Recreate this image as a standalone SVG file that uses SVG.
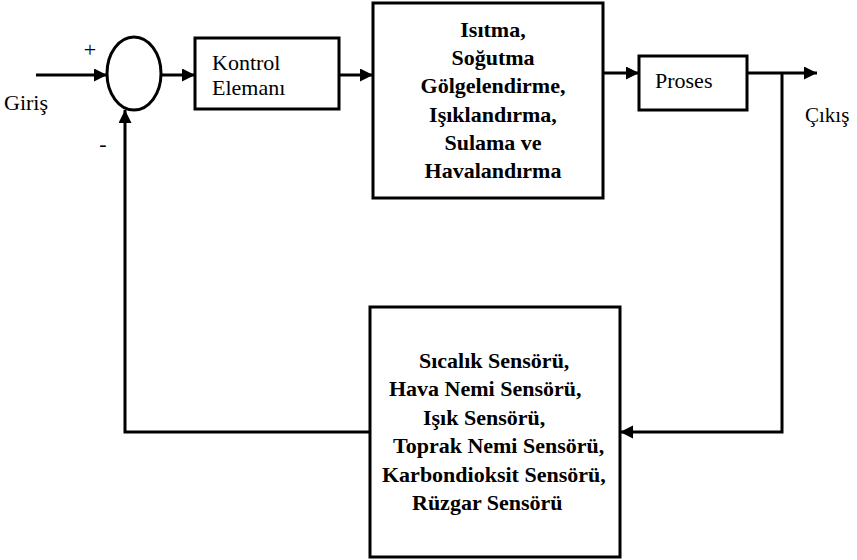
<svg xmlns="http://www.w3.org/2000/svg" width="857" height="560" viewBox="0 0 857 560" font-family="'Liberation Serif', 'Times New Roman', 'DejaVu Serif', serif">
  <style>
    .box { fill: #fff; stroke: #000; stroke-width: 3; }
    .wire { fill: none; stroke: #000; stroke-width: 3; }
    text { font-family: "Liberation Serif", "Times New Roman", "DejaVu Serif", serif; font-size: 22px; fill: #000; }
    .bold text, text.bold { font-weight: bold; }
  </style>
  <defs>
    <marker id="arrow" markerUnits="userSpaceOnUse" markerWidth="14" markerHeight="14" refX="13" refY="6.5" orient="auto">
      <path d="M0,0 L13,6.5 L0,13 Z" fill="#000"/>
    </marker>
  </defs>
  <rect width="857" height="560" fill="#fff"/>

  <!-- connectors -->
  <g id="connectors">
    <line class="wire" x1="36" y1="75" x2="107" y2="75" marker-end="url(#arrow)"/>
    <line class="wire" x1="161" y1="75" x2="195" y2="75" marker-end="url(#arrow)"/>
    <line class="wire" x1="339" y1="75" x2="373" y2="75" marker-end="url(#arrow)"/>
    <line class="wire" x1="603" y1="73" x2="639" y2="73" marker-end="url(#arrow)"/>
    <line class="wire" x1="747" y1="73" x2="817" y2="73" marker-end="url(#arrow)"/>
    <polyline class="wire" points="782,73 782,432 620,432" marker-end="url(#arrow)"/>
    <polyline class="wire" points="370,432 125,432 125,110" marker-end="url(#arrow)"/>
  </g>

  <!-- summing junction -->
  <g id="sum">
    <ellipse class="box" cx="134" cy="73.5" rx="27" ry="36.5"/>
    <text x="90" y="57" text-anchor="middle">+</text>
    <text x="103" y="151" text-anchor="middle">-</text>
  </g>

  <g id="input">
    <text x="4" y="110">Giriş</text>
  </g>

  <g id="controller">
    <rect class="box" x="195" y="38" width="144" height="71"/>
    <text x="212" y="70">Kontrol</text>
    <text x="212" y="95">Elemanı</text>
  </g>

  <g id="actuators">
    <rect class="box" x="373" y="3" width="230" height="195"/>
    <g class="bold" text-anchor="middle">
      <text x="493" y="37">Isıtma,</text>
      <text x="493" y="65">Soğutma</text>
      <text x="493" y="93">Gölgelendirme,</text>
      <text x="493" y="122">Işıklandırma,</text>
      <text x="493" y="150">Sulama ve</text>
      <text x="493" y="178">Havalandırma</text>
    </g>
  </g>

  <g id="process">
    <rect class="box" x="639" y="56" width="108" height="54"/>
    <text x="655" y="88">Proses</text>
  </g>

  <g id="output">
    <text x="805" y="122" style="font-size:21px">Çıkış</text>
  </g>

  <g id="sensors">
    <rect class="box" x="370" y="307" width="250" height="250"/>
    <g class="bold">
      <text x="419" y="368">Sıcalık Sensörü,</text>
      <text x="389" y="396">Hava Nemi Sensörü,</text>
      <text x="423" y="425">Işık Sensörü,</text>
      <text x="393" y="453">Toprak Nemi Sensörü,</text>
      <text x="382" y="482">Karbondioksit Sensörü,</text>
      <text x="412" y="510">Rüzgar Sensörü</text>
    </g>
  </g>
</svg>
